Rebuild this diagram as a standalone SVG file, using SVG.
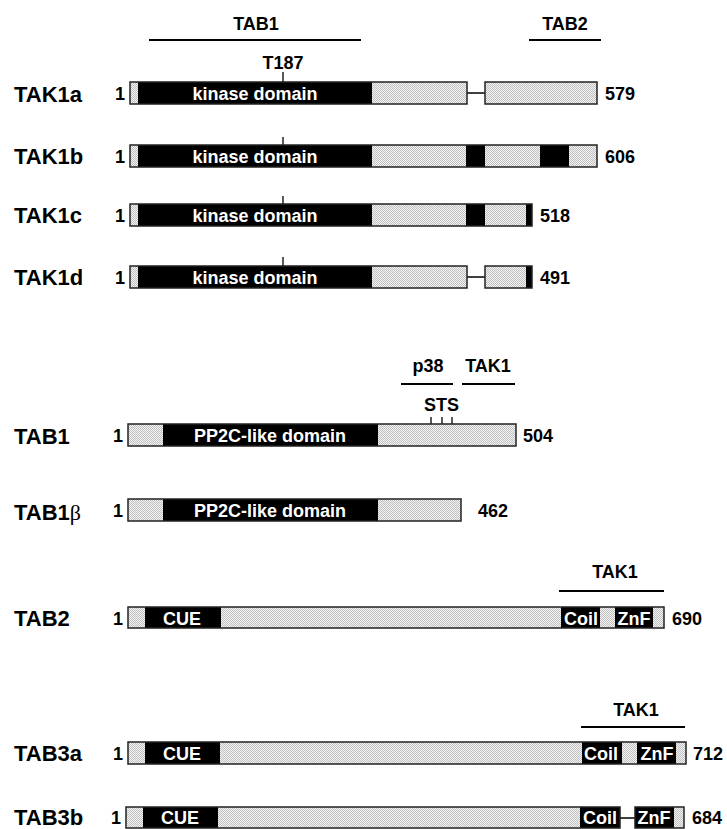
<svg xmlns="http://www.w3.org/2000/svg" width="727" height="829" viewBox="0 0 727 829">
<defs>
<pattern id="dots" width="2" height="2" patternUnits="userSpaceOnUse">
<rect width="2" height="2" fill="#f4f4f4"/>
<rect x="0" y="0" width="1" height="1" fill="#bfbfbf"/>
<rect x="1" y="1" width="1" height="1" fill="#bfbfbf"/>
</pattern>
<style>
text{font-family:"Liberation Sans",Arial,sans-serif;font-weight:bold;fill:#000}
.lbl{font-size:22px}
.num{font-size:18px}
.ttl{font-size:18px;text-anchor:middle}
.dom{font-size:18px;fill:#fff;text-anchor:middle}
.st{fill:url(#dots)}
.bk{fill:#000}
.ol{fill:none;stroke:#222;stroke-width:1.5}
.bar{stroke:#000;stroke-width:2}
.tick{stroke:#000;stroke-width:1.3}
.gap{stroke:#000;stroke-width:1.5}
</style>
</defs>
<rect width="727" height="829" fill="#fff"/>

<g id="tak1-binding">
<text class="ttl" x="256" y="30">TAB1</text>
<line class="bar" x1="149" y1="40" x2="361" y2="40"/>
<text class="ttl" x="565" y="30">TAB2</text>
<line class="bar" x1="529" y1="40" x2="601" y2="40"/>
<text class="ttl" x="283" y="69">T187</text>
</g>

<g id="connectors">
<line class="gap" x1="467" y1="93" x2="485" y2="93"/>
<line class="gap" x1="467" y1="277" x2="485" y2="277"/>
<line class="gap" x1="620" y1="818" x2="635" y2="818"/>
</g>

<g id="TAK1a">
<text class="lbl" x="14" y="102">TAK1a</text>
<text class="num" x="125" y="100" text-anchor="end">1</text>
<line class="tick" x1="283" y1="72" x2="283" y2="82"/>
<rect class="st" x="130" y="82" width="8" height="22"/>
<rect class="bk" x="138" y="82" width="234" height="22"/>
<rect class="st" x="372" y="82" width="95" height="22"/>
<rect class="ol" x="130" y="82" width="337" height="22"/>
<rect class="st" x="485" y="82" width="112" height="22"/>
<rect class="ol" x="485" y="82" width="112" height="22"/>
<text class="dom" x="255" y="100">kinase domain</text>
<text class="num" x="605" y="100">579</text>
</g>

<g id="TAK1b">
<text class="lbl" x="14" y="164">TAK1b</text>
<text class="num" x="125" y="163" text-anchor="end">1</text>
<line class="tick" x1="283" y1="137" x2="283" y2="145"/>
<rect class="st" x="130" y="145" width="8" height="22"/>
<rect class="bk" x="138" y="145" width="234" height="22"/>
<rect class="st" x="372" y="145" width="94" height="22"/>
<rect class="bk" x="466" y="145" width="19" height="22"/>
<rect class="st" x="485" y="145" width="55" height="22"/>
<rect class="bk" x="540" y="145" width="29" height="22"/>
<rect class="st" x="569" y="145" width="28" height="22"/>
<rect class="ol" x="130" y="145" width="467" height="22"/>
<text class="dom" x="255" y="163">kinase domain</text>
<text class="num" x="605" y="163">606</text>
</g>

<g id="TAK1c">
<text class="lbl" x="14" y="223">TAK1c</text>
<text class="num" x="125" y="222" text-anchor="end">1</text>
<line class="tick" x1="283" y1="196" x2="283" y2="204"/>
<rect class="st" x="130" y="204" width="8" height="22"/>
<rect class="bk" x="138" y="204" width="234" height="22"/>
<rect class="st" x="372" y="204" width="94" height="22"/>
<rect class="bk" x="466" y="204" width="19" height="22"/>
<rect class="st" x="485" y="204" width="41" height="22"/>
<rect class="bk" x="526" y="204" width="6" height="22"/>
<rect class="ol" x="130" y="204" width="402" height="22"/>
<text class="dom" x="255" y="222">kinase domain</text>
<text class="num" x="540" y="222">518</text>
</g>

<g id="TAK1d">
<text class="lbl" x="14" y="285">TAK1d</text>
<text class="num" x="125" y="284" text-anchor="end">1</text>
<line class="tick" x1="283" y1="257" x2="283" y2="266"/>
<rect class="st" x="130" y="266" width="8" height="22"/>
<rect class="bk" x="138" y="266" width="234" height="22"/>
<rect class="st" x="372" y="266" width="95" height="22"/>
<rect class="ol" x="130" y="266" width="337" height="22"/>
<rect class="st" x="485" y="266" width="41" height="22"/>
<rect class="bk" x="526" y="266" width="6" height="22"/>
<rect class="ol" x="485" y="266" width="47" height="22"/>
<text class="dom" x="255" y="284">kinase domain</text>
<text class="num" x="540" y="284">491</text>
</g>

<g id="TAB1">
<text class="ttl" x="428" y="372">p38</text>
<line class="bar" x1="401" y1="384" x2="453" y2="384"/>
<text class="ttl" x="488" y="372">TAK1</text>
<line class="bar" x1="462" y1="384" x2="515" y2="384"/>
<text class="ttl" x="441.5" y="411">STS</text>
<line class="tick" x1="431" y1="417" x2="431" y2="424"/>
<line class="tick" x1="442" y1="417" x2="442" y2="424"/>
<line class="tick" x1="452" y1="417" x2="452" y2="424"/>
<text class="lbl" x="14" y="444">TAB1</text>
<text class="num" x="123" y="442" text-anchor="end">1</text>
<rect class="st" x="128" y="424" width="35" height="22"/>
<rect class="bk" x="163" y="424" width="215" height="22"/>
<rect class="st" x="378" y="424" width="138" height="22"/>
<rect class="ol" x="128" y="424" width="388" height="22"/>
<text class="dom" x="270" y="442">PP2C-like domain</text>
<text class="num" x="523" y="442">504</text>
</g>

<g id="TAB1beta">
<text class="lbl" x="14" y="520">TAB1<tspan style="font-family:'Liberation Serif',serif;font-weight:normal">β</tspan></text>
<text class="num" x="123" y="517" text-anchor="end">1</text>
<rect class="st" x="128" y="499" width="35" height="22"/>
<rect class="bk" x="163" y="499" width="215" height="22"/>
<rect class="st" x="378" y="499" width="83" height="22"/>
<rect class="ol" x="128" y="499" width="333" height="22"/>
<text class="dom" x="270" y="517">PP2C-like domain</text>
<text class="num" x="478" y="517">462</text>
</g>

<g id="TAB2">
<text class="ttl" x="615" y="578">TAK1</text>
<line class="bar" x1="559" y1="591" x2="664" y2="591"/>
<text class="lbl" x="14" y="626">TAB2</text>
<text class="num" x="123" y="625" text-anchor="end">1</text>
<rect class="st" x="128" y="607" width="17" height="21"/>
<rect class="bk" x="145" y="607" width="76" height="21"/>
<rect class="st" x="221" y="607" width="340" height="21"/>
<rect class="bk" x="561" y="607" width="39" height="21"/>
<rect class="st" x="600" y="607" width="15" height="21"/>
<rect class="bk" x="615" y="607" width="38" height="21"/>
<rect class="st" x="653" y="607" width="11" height="21"/>
<rect class="ol" x="128" y="607" width="536" height="21"/>
<text class="dom" x="182" y="624.5">CUE</text>
<text class="dom" x="581" y="624.5">Coil</text>
<text class="dom" x="634" y="624.5">ZnF</text>
<text class="num" x="672" y="625">690</text>
</g>

<g id="TAB3a">
<text class="ttl" x="636" y="716">TAK1</text>
<line class="bar" x1="581" y1="727" x2="685" y2="727"/>
<text class="lbl" x="14" y="761">TAB3a</text>
<text class="num" x="123" y="760" text-anchor="end">1</text>
<rect class="st" x="128" y="742" width="17" height="22"/>
<rect class="bk" x="145" y="742" width="75" height="22"/>
<rect class="st" x="220" y="742" width="362" height="22"/>
<rect class="bk" x="582" y="742" width="40" height="22"/>
<rect class="st" x="622" y="742" width="15" height="22"/>
<rect class="bk" x="637" y="742" width="39" height="22"/>
<rect class="st" x="676" y="742" width="10" height="22"/>
<rect class="ol" x="128" y="742" width="558" height="22"/>
<text class="dom" x="182" y="759.5">CUE</text>
<text class="dom" x="601" y="759.5">Coil</text>
<text class="dom" x="657" y="759.5">ZnF</text>
<text class="num" x="693" y="760">712</text>
</g>

<g id="TAB3b">
<text class="lbl" x="14" y="825">TAB3b</text>
<text class="num" x="121" y="824" text-anchor="end">1</text>
<rect class="st" x="126" y="807" width="17" height="21"/>
<rect class="bk" x="143" y="807" width="75" height="21"/>
<rect class="st" x="218" y="807" width="362" height="21"/>
<rect class="bk" x="580" y="807" width="40" height="21"/>
<rect class="ol" x="126" y="807" width="494" height="21"/>
<rect class="bk" x="635" y="807" width="39" height="21"/>
<rect class="st" x="674" y="807" width="10" height="21"/>
<rect class="ol" x="635" y="807" width="49" height="21"/>
<text class="dom" x="180" y="824">CUE</text>
<text class="dom" x="600" y="824">Coil</text>
<text class="dom" x="654" y="824">ZnF</text>
<text class="num" x="692" y="824">684</text>
</g>
</svg>
